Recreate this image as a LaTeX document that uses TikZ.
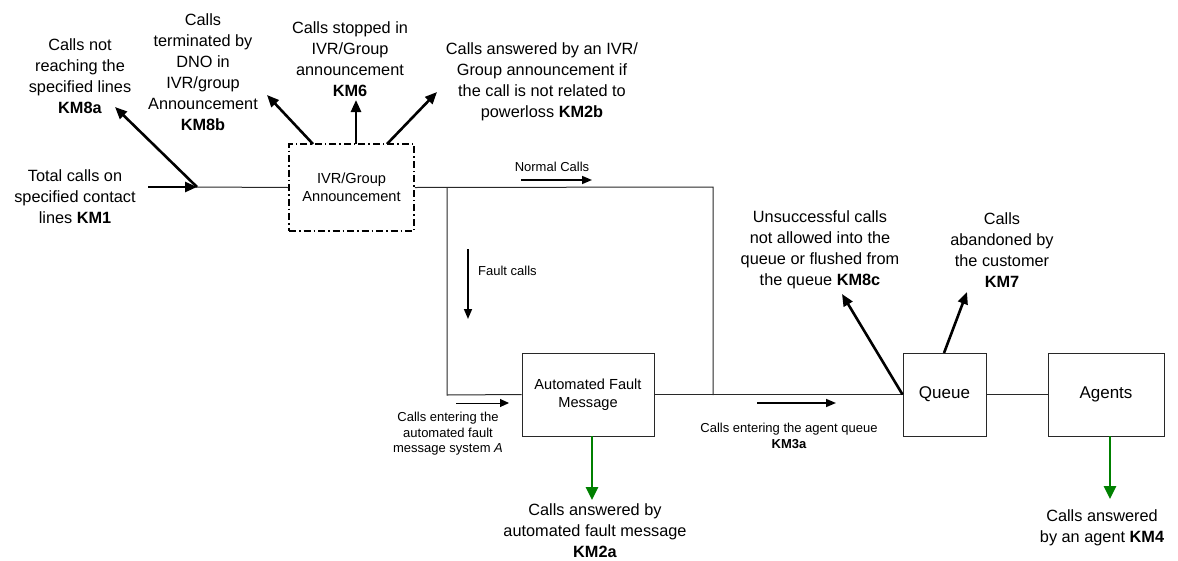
\documentclass[tikz,border=0pt]{standalone}
\usepackage{fontspec}
\setmainfont{Liberation Sans}
\usetikzlibrary{arrows.meta}
\definecolor{okgreen}{RGB}{0,128,0}
\definecolor{linegray}{RGB}{40,40,40}
\begin{document}
\begin{tikzpicture}[x=1pt,y=-1pt,
  box/.style={draw=linegray,line width=1pt,minimum width=#1,minimum height=83pt,inner sep=0pt,font=\fontsize{14.6}{18}\selectfont,align=center},
  ivrbox/.style={draw=black,line width=1.5pt,dash pattern=on 7pt off 3pt on 1.5pt off 3pt,minimum width=125pt,minimum height=87pt,inner sep=0pt,font=\fontsize{14.6}{18}\selectfont,align=center},
  big/.style={inner sep=0pt,align=center,font=\fontsize{16.3}{21}\selectfont},
  small/.style={inner sep=0pt,align=center,font=\fontsize{13}{15.5}\selectfont},
  conn/.style={draw=linegray,line width=1pt},
  thickarrow/.style={line width=2.6pt,-{Triangle[length=12pt,width=10pt]}},
  thinarrow/.style={line width=1.5pt,-{Triangle[length=10pt,width=8pt]}},
  greenarrow/.style={draw=okgreen,line width=2.6pt,-{Triangle[length=13pt,width=12pt]},okgreen}
]
\useasboundingbox (0,0) rectangle (1178,560);
% boxes
\node[ivrbox] (ivr) at (351.5,187.5) {IVR/Group\\Announcement};
\node[box=132pt] (afm) at (588,394.5) {Automated Fault\\Message};
\node[box=83pt,font=\fontsize{17}{20}\selectfont] (queue) at (944.5,394.5) {Queue};
\node[box=116pt,font=\fontsize{17}{20}\selectfont] (agents) at (1106,394.5) {Agents};
% junctions
\coordinate (s1) at (148,187);
\coordinate (in) at (197,187);
\coordinate (j1) at (447,187);
\coordinate (j2) at (713,187);
\coordinate (j1b) at (447,395);
\coordinate (j2b) at (713,395);
% connectors
\draw[conn] (in) -- (ivr.west);
\draw[conn] (ivr.east) -- (j2) -- (j2b);
\draw[conn] (j1) -- (j1b) -- (afm.west);
\draw[conn] (afm.east) -- (queue.west);
\draw[conn] (queue.east) -- (agents.west);
% labels
\node[big] (km1) at (75,197) {Total calls on\\specified contact\\lines \textbf{KM1}};
\node[big] (km8a) at (80,76) {Calls not\\reaching the\\specified lines\\\textbf{KM8a}};
\node[big] (km8b) at (203,72) {Calls\\terminated by\\DNO in\\IVR/group\\Announcement\\\textbf{KM8b}};
\node[big] (km6) at (350,59) {Calls stopped in\\IVR/Group\\announcement\\\textbf{KM6}};
\node[big] (km2b) at (542,82) {Calls answered by an IVR/\\Group announcement if\\the call is not related to\\powerloss \textbf{KM2b}};
\node[big] (km8c) at (820,250) {Unsuccessful calls\\not allowed into the\\queue or flushed from\\the queue \textbf{KM8c}};
\node[big] (km7) at (1002,250) {Calls\\abandoned by\\the customer\\\textbf{KM7}};
\node[big] (km2a) at (595,531) {Calls answered by\\automated fault message\\\textbf{KM2a}};
\node[big] (km4) at (1102,528) {Calls answered\\by an agent \textbf{KM4}};
\node[small] (normal) at (552,167) {Normal Calls};
\node[small,anchor=west] (fault) at (478,271) {Fault calls};
\node[small] (afmin) at (448,434) {Calls entering the\\automated fault\\message system \textit{A}};
\node[small] (km3a) at (789,436) {Calls entering the agent queue\\\textbf{KM3a}};
% arrow end points
\coordinate (t8a) at (115,107);
\coordinate (s8b) at (313,144);
\coordinate (t8b) at (267,95);
\coordinate (s6) at (356,144);
\coordinate (t6) at (356,100);
\coordinate (s2b) at (387,144);
\coordinate (t2b) at (437,92);
\coordinate (t8c) at (842,294);
\coordinate (s7) at (944,353);
\coordinate (t7) at (967,292);
\coordinate (ns) at (521,180);
\coordinate (nt) at (592,180);
\coordinate (fs) at (468,249);
\coordinate (ft) at (468,319);
\coordinate (as) at (456,403);
\coordinate (at) at (509,403);
\coordinate (qs) at (757,403);
\coordinate (qt) at (836,403);
\coordinate (g1s) at (592,436);
\coordinate (g1t) at (592,500);
\coordinate (g2s) at (1110,436);
\coordinate (g2t) at (1110,499);
% arrows
\draw[thickarrow] (s1) -- (in);
\draw[thickarrow] (in) -- (t8a);
\draw[thickarrow] (s8b) -- (t8b);
\draw[thickarrow] (s6) -- (t6);
\draw[thickarrow] (s2b) -- (t2b);
\draw[thickarrow] (queue.west) -- (t8c);
\draw[thickarrow] (s7) -- (t7);
\draw[thinarrow] (ns) -- (nt);
\draw[thinarrow] (fs) -- (ft);
\draw[line width=1pt,-{Triangle[length=9pt,width=8pt]}] (as) -- (at);
\draw[thinarrow] (qs) -- (qt);
\draw[greenarrow] (g1s) -- (g1t);
\draw[greenarrow] (g2s) -- (g2t);
\end{tikzpicture}
\end{document}
